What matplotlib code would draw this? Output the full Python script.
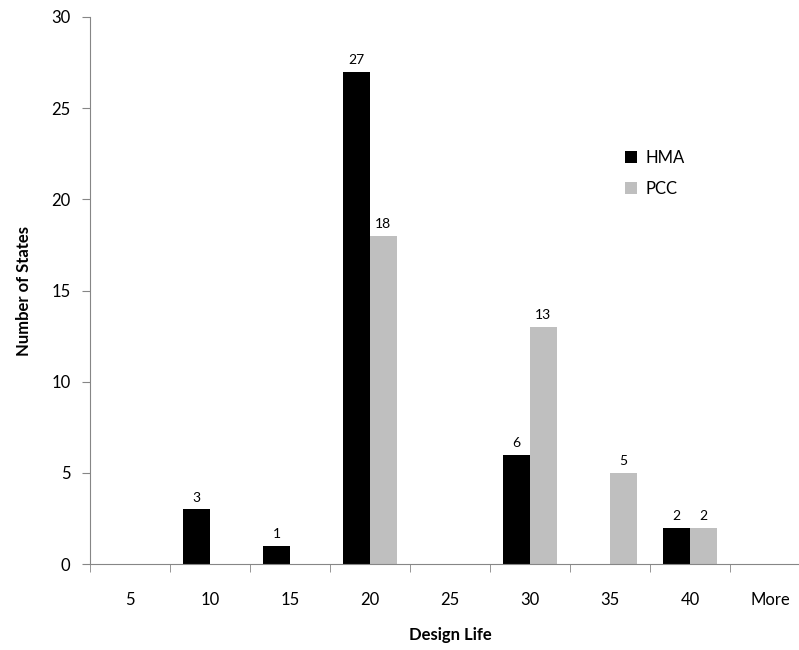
import numpy as np
import matplotlib
matplotlib.use('Agg')
import matplotlib.pyplot as plt
from matplotlib.ticker import FixedLocator

# data
categories = ['5', '10', '15', '20', '25', '30', '35', '40', 'More']
hma = [0, 3, 1, 27, 0, 6, 0, 2, 0]
pcc = [0, 0, 0, 18, 0, 13, 5, 2, 0]

plt.rcParams['font.family'] = ['Lato', 'DejaVu Sans']
axis_gray = '#868686'

fig = plt.figure(figsize=(7.99, 6.5), dpi=100)
ax = fig.add_axes([0.1126, 0.132, 0.9012, 0.842])

x = np.arange(len(categories))
w = 0.333
b1 = ax.bar(x - w / 2, hma, w, color='black', label='HMA')
b2 = ax.bar(x + w / 2, pcc, w, color='#bfbfbf', label='PCC')

# value labels only for non-zero bars
for bars, vals in [(b1, hma), (b2, pcc)]:
    for bar, v in zip(bars, vals):
        if v > 0:
            ax.annotate(str(v), (bar.get_x() + bar.get_width() / 2, v),
                        xytext=(0, 4), textcoords='offset points',
                        ha='center', va='bottom', fontsize=10)

ax.set_xlim(-0.5, len(categories) - 0.5)
ax.set_ylim(0, 30)
ax.set_yticks(range(0, 31, 5))
ax.set_xticks(x)
ax.set_xticklabels(categories)
ax.xaxis.set_minor_locator(FixedLocator(np.arange(-0.5, len(categories), 1)))

ax.tick_params(axis='x', which='major', length=0, pad=20, labelsize=12)
ax.tick_params(axis='x', which='minor', length=6, color=axis_gray)
ax.tick_params(axis='y', length=6, color=axis_gray, labelsize=12, pad=8)

for s in ['top', 'right']:
    ax.spines[s].set_visible(False)
for s in ['left', 'bottom']:
    ax.spines[s].set_color(axis_gray)

ax.set_xlabel('Design Life', fontsize=12, fontweight='bold', labelpad=14)
ax.set_ylabel('Number of States', fontsize=12, fontweight='bold', labelpad=14)

ax.legend(loc='upper left', bbox_to_anchor=(0.763, 0.792), bbox_transform=fig.transFigure,
          frameon=False, fontsize=12, handlelength=0.75, handleheight=0.75,
          handletextpad=0.5, labelspacing=0.9)

fig.savefig('out.png', dpi=100)
